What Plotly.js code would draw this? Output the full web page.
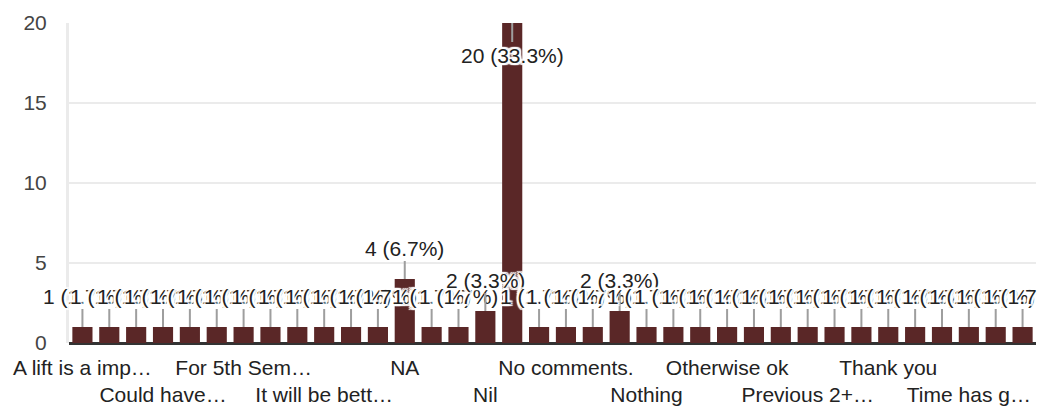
<!DOCTYPE html>
<html>
<head>
<meta charset="utf-8">
<script src="https://cdn.plot.ly/plotly-3.0.1.min.js"></script>
<style>
html,body{margin:0;padding:0;background:#fff;}
#chart{width:1037px;height:406px;}
</style>
</head>
<body>
<div id="chart"></div>
<script>
// Response counts, in the chart's (alphabetical) order of responses
const counts = [1,1,1,1,1,1,1,1,1,1,1,1,4,1,1,2,20,1,1,1,2,1,1,1,1,1,1,1,1,1,1,1,1,1,1,1];
// Visible category tick labels (every third response is labelled)
const tickLabels = ["A lift is a imp…","Could have…","For 5th Sem…","It will be bett…","NA","Nil",
  "No comments.","Nothing","Otherwise ok","Previous 2+…","Thank you","Time has g…"];
const tickStep = 3;
const yTicks = [0,5,10,15,20];

const total = counts.reduce((a,b)=>a+b,0);
const xIdx = counts.map((_,i)=>i);
const yMax = yTicks[yTicks.length-1];

const font = '"Liberation Sans", Arial, sans-serif';
const halo = '2px 0 1px #fff, -2px 0 1px #fff, 0 2px 1px #fff, 0 -2px 1px #fff, 2px 2px 1px #fff, -2px -2px 1px #fff, 2px -2px 1px #fff, -2px 2px 1px #fff';

const annotations = counts.map((v,i)=>({
  x: i, y: v, xref:'x', yref:'y',
  text: v + ' (' + (v/total*100).toFixed(1) + '%)',
  showarrow: true, arrowhead: 0, arrowwidth: 2, arrowcolor: '#9e9e9e',
  standoff: 0, startstandoff: 0,
  ax: 0, ay: (v/yMax > 0.8) ? 32 : -31,
  font: {family: font, size: 21, color: '#222', shadow: halo}
}));

const trace = {
  type: 'bar',
  x: xIdx,
  y: counts,
  marker: {color: '#5a2727'},
  hoverinfo: 'none'
};

const layout = {
  width: 1037, height: 406,
  margin: {l: 69, r: 1, t: 23, b: 63},
  paper_bgcolor: '#fff', plot_bgcolor: '#fff',
  showlegend: false,
  bargap: 0.25,
  xaxis: {
    range: [-0.5, counts.length - 0.5],
    tickmode: 'array',
    tickvals: tickLabels.map((_,k)=>k*tickStep),
    ticktext: tickLabels.map((t,k)=> k%2 ? ' <br>'+t : t),
    tickangle: 0,
    showgrid: false, zeroline: false, showline: false,
    ticks: '', ticklabelstandoff: 10,
    tickfont: {family: font, size: 21, color: '#222'},
    automargin: false, fixedrange: true
  },
  yaxis: {
    range: [0, yMax],
    tickmode: 'array', tickvals: yTicks, ticktext: yTicks.map(String),
    showgrid: true, gridcolor: '#ebebeb', gridwidth: 2,
    zeroline: true, zerolinecolor: '#333', zerolinewidth: 3,
    showline: true, linecolor: '#ebebeb', linewidth: 3,
    ticks: '', ticklabelstandoff: 15,
    tickfont: {family: font, size: 21, color: '#444'},
    automargin: false, fixedrange: true
  },
  annotations: annotations
};

Plotly.newPlot('chart', [trace], layout, {displayModeBar: false, staticPlot: true});
</script>
</body>
</html>
